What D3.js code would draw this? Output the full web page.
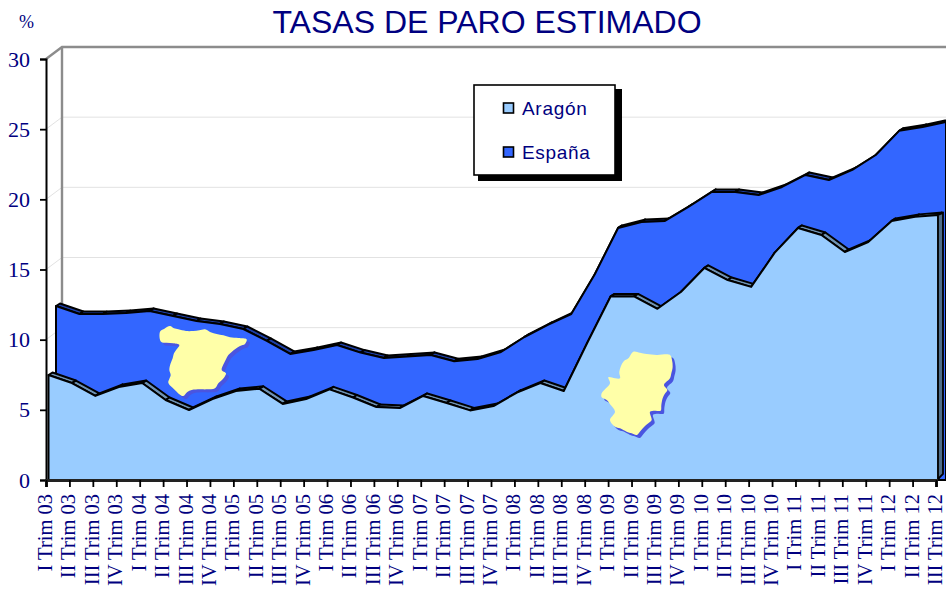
<!DOCTYPE html>
<html><head><meta charset="utf-8">
<script src="https://cdn.jsdelivr.net/npm/d3@7"></script>
<style>html,body{margin:0;padding:0;background:#fff;overflow:hidden}svg{display:block}</style>
</head><body><svg id="c" width="946" height="592"></svg>
<script>
const categories = ["I Trim 03","II Trim 03","III Trim 03","IV Trim 03","I Trim 04","II Trim 04","III Trim 04","IV Trim 04","I Trim 05","II Trim 05","III Trim 05","IV Trim 05","I Trim 06","II Trim 06","III Trim 06","IV Trim 06","I Trim 07","II Trim 07","III Trim 07","IV Trim 07","I Trim 08","II Trim 08","III Trim 08","IV Trim 08","I Trim 09","II Trim 09","III Trim 09","IV Trim 09","I Trim 10","II Trim 10","III Trim 10","IV Trim 10","I Trim 11","II Trim 11","III Trim 11","IV Trim 11","I Trim 12","II Trim 12","III Trim 12"];
const aragon = [7.48,6.91,5.99,6.63,6.91,5.7,4.99,5.77,6.34,6.5,5.42,5.77,6.46,5.88,5.2,5.13,5.99,5.49,4.96,5.27,6.23,6.91,6.34,9.76,13.08,13.08,12.2,13.4,15.11,14.25,13.76,16.18,17.96,17.46,16.25,16.96,18.46,18.75,18.89];
const espana = [12.4,11.83,11.83,11.9,12.05,11.69,11.33,11.12,10.76,9.91,8.98,9.27,9.62,9.08,8.7,8.8,8.91,8.46,8.62,9.12,10.19,11.05,11.83,14.64,17.96,18.39,18.46,19.46,20.53,20.53,20.31,20.88,21.74,21.38,22.1,23.16,24.88,25.16,25.52];
const yTicks = [0,5,10,15,20,25,30];
const spainOutline = [[30,35],[42,27],[60,18],[72,25],[85,28],[108,33],[130,33],[148,31],[165,28],[182,37],[200,42],[220,46],[240,52],[265,54],[290,58],[285,72],[270,78],[255,88],[245,96],[235,105],[228,118],[222,130],[215,150],[228,160],[224,170],[218,178],[205,190],[195,205],[170,208],[150,208],[125,210],[112,216],[100,228],[90,224],[80,215],[66,202],[55,188],[62,165],[58,150],[62,130],[68,115],[72,100],[80,88],[88,75],[70,70],[50,68],[33,65]];
const aragonOutline = [[130,35],[150,38],[170,42],[200,45],[240,45],[246,60],[248,80],[244,100],[240,115],[222,135],[232,150],[224,162],[218,175],[214,195],[212,212],[195,212],[180,215],[185,240],[175,250],[165,258],[152,272],[140,285],[125,280],[110,275],[90,265],[75,260],[60,240],[75,215],[62,195],[50,180],[35,172],[35,160],[60,130],[55,112],[75,115],[90,115],[88,95],[100,65],[115,55]];

const svg = d3.select("#c");
const NAVY = "#000080";
const x = d3.scalePoint().domain(categories).range([46, 936]);
const y = d3.scaleLinear().domain([0, 30]).range([480, 59]);
const wall = {dx: 16, dy: -12};

// back wall + gridlines
const g = svg.append("g");
g.selectAll("line.grid").data(yTicks.filter(t => t > 0 && t < 30)).join("line")
  .attr("x1", 46 + wall.dx).attr("x2", 946)
  .attr("y1", d => y(d) + wall.dy).attr("y2", d => y(d) + wall.dy)
  .attr("stroke", "#e2e2e2").attr("stroke-width", 1);
g.selectAll("line.diag").data(yTicks.filter(t => t > 0 && t < 30)).join("line")
  .attr("x1", 46).attr("x2", 46 + wall.dx)
  .attr("y1", d => y(d)).attr("y2", d => y(d) + wall.dy)
  .attr("stroke", "#e2e2e2").attr("stroke-width", 1);
g.append("path")
  .attr("d", d3.line()([[46, y(30)], [46 + wall.dx, y(30) + wall.dy], [946, y(30) + wall.dy]]))
  .attr("fill", "none").attr("stroke", "#8c8c8c").attr("stroke-width", 2.4);
g.append("line").attr("x1", 46 + wall.dx).attr("x2", 46 + wall.dx)
  .attr("y1", y(30) + wall.dy).attr("y2", y(12))
  .attr("stroke", "#8c8c8c").attr("stroke-width", 2.4);

function series(values, ox, depth, fill, ridge, sw) {
  const layer = svg.append("g");
  const px = i => x(categories[i]) + ox;
  const segs = d3.range(values.length - 1);
  layer.selectAll("path.ridge").data(segs).join("path")
    .attr("d", i => d3.line()([
      [px(i), y(values[i])], [px(i + 1), y(values[i + 1])],
      [px(i + 1) + depth.dx, y(values[i + 1]) + depth.dy], [px(i) + depth.dx, y(values[i]) + depth.dy]
    ]) + "Z")
    .attr("fill", ridge).attr("stroke", "#000").attr("stroke-width", sw).attr("stroke-linejoin", "round");
  const area = d3.area().x((d, i) => px(i)).y0(y(0)).y1(d => y(d));
  layer.append("path").datum(values).attr("d", area)
    .attr("fill", fill).attr("stroke", "#000").attr("stroke-width", sw).attr("stroke-linejoin", "round");
  return {px};
}
series(espana, 10, {dx: 4, dy: -2.5}, "#3366ff", "#1d3fa8", 2);
const fr = series(aragon, 2.5, {dx: 4, dy: -2.5}, "#99ccff", "#6f93b5", 2);

// right side face of the front series
const last = aragon.length - 1, ex = fr.px(last) - 0.5;
svg.append("path")
  .attr("d", d3.line()([[ex, y(aragon[last])], [ex + 5, y(aragon[last]) - 2], [ex + 5, y(0) - 6], [ex, y(0) - 1]]) + "Z")
  .attr("fill", "#4f6d8a").attr("stroke", "#000").attr("stroke-width", 1.8);

// axes
const yAxis = d3.axisLeft(y).tickValues(yTicks).tickSize(6).tickPadding(10);
const ay = svg.append("g").attr("transform", "translate(46,0)").call(yAxis);
ay.select(".domain").attr("stroke", "#000").attr("stroke-width", 2);
ay.selectAll(".tick line").attr("stroke", "#000").attr("stroke-width", 1.8);
ay.selectAll(".tick text").attr("fill", NAVY).attr("font-family", "Liberation Serif").attr("font-size", 22);

const xAxis = d3.axisBottom(x).tickSize(7).tickPadding(0);
const ax = svg.append("g").attr("transform", "translate(0,480)").call(xAxis);
ax.select(".domain").attr("stroke", "#222").attr("stroke-width", 3);
ax.selectAll(".tick line").attr("stroke", "#000").attr("stroke-width", 1.8);
ax.selectAll(".tick text")
  .attr("fill", NAVY).attr("font-family", "Liberation Serif").attr("font-size", 20.5)
  .attr("text-anchor", "end").attr("dy", null)
  .attr("transform", "translate(5.5,14) rotate(-90)").attr("x", 0).attr("y", 0);

// maps
function map(outline, ox, oy, sdx, sdy) {
  const pts = outline.map(p => [ox + p[0] / 3, oy + p[1] / 3]);
  const line = d3.line().curve(d3.curveCatmullRomClosed.alpha(0.5));
  svg.append("path").attr("d", line(pts)).attr("transform", `translate(${sdx},${sdy})`).attr("fill", "#4a55e0");
  svg.append("path").attr("d", line(pts)).attr("fill", "#ffffa8");
}
map(spainOutline, 150, 320, 3, 3);
map(aragonOutline, 590, 340, 3, 3);

// title + unit
svg.append("text").attr("x", 487).attr("y", 33).attr("text-anchor", "middle")
  .attr("font-family", "Liberation Sans").attr("font-size", 32).attr("fill", NAVY).text("TASAS DE PARO ESTIMADO");
svg.append("text").attr("x", 19).attr("y", 28).attr("text-anchor", "start")
  .attr("font-family", "Liberation Serif").attr("font-size", 18).attr("fill", NAVY).text("%");

// legend
const lg = svg.append("g");
lg.append("rect").attr("x", 478).attr("y", 89).attr("width", 144).attr("height", 92).attr("fill", "#000");
lg.append("rect").attr("x", 474).attr("y", 85).attr("width", 141).attr("height", 90).attr("fill", "#fff").attr("stroke", "#000").attr("stroke-width", 1.6);
[["Aragón", "#99ccff", 108], ["España", "#3366ff", 152]].forEach(([t, c, cy]) => {
  lg.append("rect").attr("x", 503.5).attr("y", cy - 5).attr("width", 10).attr("height", 10).attr("fill", c).attr("stroke", "#000").attr("stroke-width", 1.6);
  lg.append("text").attr("x", 522).attr("y", cy + 6.5).attr("font-family", "Liberation Sans").attr("font-size", 19).attr("letter-spacing", 0.7).attr("fill", NAVY).text(t);
});
</script></body></html>
